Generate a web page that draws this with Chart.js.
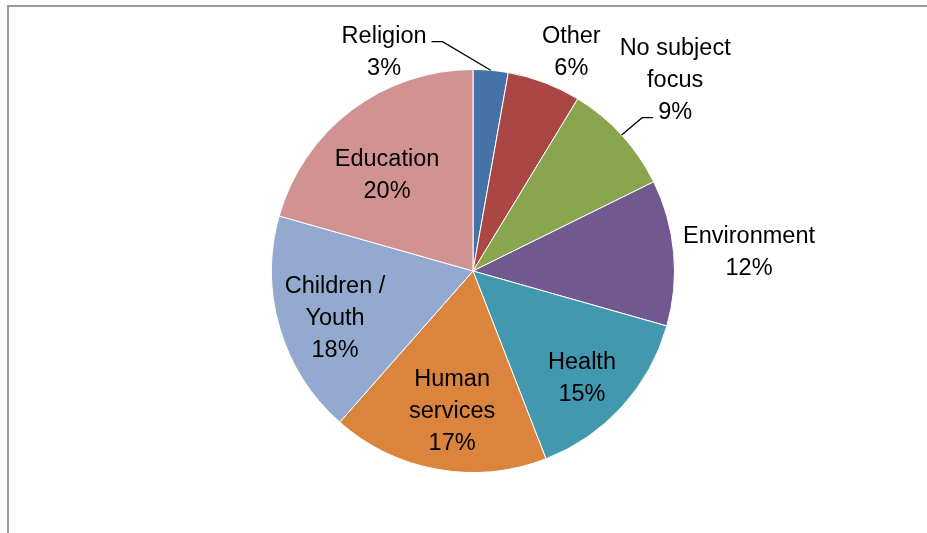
<!DOCTYPE html>
<html>
<head>
<meta charset="utf-8">
<script src="https://cdn.jsdelivr.net/npm/chart.js@4"></script>
<style>
    html, body { margin: 0; padding: 0; background: #ffffff; }
    #wrap { position: relative; width: 927px; height: 533px; overflow: hidden; }
    #frame {
        position: absolute; left: 7px; top: 5px; right: -10px; bottom: -10px;
        border-top: 2px solid #9a9a9a; border-left: 2px solid #9a9a9a;
    }
    #subjects-chart { position: absolute; left: 0; top: 0; }
</style>
</head>
<body>
<div id="wrap">
    <div id="frame"></div>
    <canvas id="subjects-chart" width="927" height="533"></canvas>
</div>
<script>
// Données (sens horaire depuis le haut)
const categories = [
    ['Religion'],
    ['Other'],
    ['No subject', 'focus'],
    ['Environment'],
    ['Health'],
    ['Human', 'services'],
    ['Children /', 'Youth'],
    ['Education']
];
const shares = [2.8, 5.9, 9.0, 11.7, 14.7, 17.4, 17.9, 20.6];
const percentLabels = ['3%', '6%', '9%', '12%', '15%', '17%', '18%', '20%'];
const sliceColors = ['#4572A7', '#AA4643', '#89A54E', '#71588F', '#4198AF', '#DB843D', '#93A9CF', '#D19392'];

// Placement des étiquettes : décalage d'angle (degrés) par rapport au milieu de la part, et distance relative au rayon
const labelLayout = [
    { da: -27.2, r: 1.17, leader: { line: 0, side: 'right' } },
    { da: 3.5, r: 1.19 },
    { da: -0.8, r: 1.378, leader: { line: 2, side: 'left' } },
    { da: 1.4, r: 1.373 },
    { da: 2.4, r: 0.761 },
    { da: -1.6, r: 0.703 },
    { da: -2.8, r: 0.725 },
    { da: -4.9, r: 0.638 }
];

const FONT = '23.5px "Liberation Sans", Arial, sans-serif';
const LINE_H = 32;

// Plugin pour dessiner les étiquettes et les lignes de rappel
const pieLabels = {
    id: 'pieLabels',
    afterDatasetsDraw(chart) {
        const ctx = chart.ctx;
        const arcs = chart.getDatasetMeta(0).data;
        ctx.save();
        ctx.font = FONT;
        ctx.fillStyle = '#000000';
        ctx.textAlign = 'center';
        ctx.textBaseline = 'middle';
        arcs.forEach((arc, i) => {
            const p = arc.getProps(['x', 'y', 'startAngle', 'endAngle', 'outerRadius'], true);
            const mid = (p.startAngle + p.endAngle) / 2;
            const lay = labelLayout[i];
            const a = mid + lay.da * Math.PI / 180;
            const cx = p.x + Math.cos(a) * p.outerRadius * lay.r;
            const cy = p.y + Math.sin(a) * p.outerRadius * lay.r;
            const lines = categories[i].concat([percentLabels[i]]);
            const top = cy - (lines.length - 1) * LINE_H / 2;
            lines.forEach((txt, k) => ctx.fillText(txt, cx, top + k * LINE_H));

            if (lay.leader) {
                const txt = lines[lay.leader.line];
                const w = ctx.measureText(txt).width;
                const ly = top + lay.leader.line * LINE_H + 5;
                const ax = p.x + Math.cos(mid) * p.outerRadius;
                const ay = p.y + Math.sin(mid) * p.outerRadius;
                const dir = lay.leader.side === 'right' ? 1 : -1;
                const endX = cx + dir * (w / 2 + 5);
                const elbowX = endX + dir * 11;
                ctx.beginPath();
                ctx.strokeStyle = '#000000';
                ctx.lineWidth = 1.3;
                ctx.moveTo(ax, ay);
                ctx.lineTo(elbowX, ly);
                ctx.lineTo(endX, ly);
                ctx.stroke();
            }
        });
        ctx.restore();
    }
};

const ctx = document.getElementById('subjects-chart');
new Chart(ctx, {
    type: 'pie',
    data: {
        labels: categories.map(c => c.join(' ')),
        datasets: [{
            data: shares,
            backgroundColor: sliceColors,
            borderColor: '#ffffff',
            borderWidth: 1
        }]
    },
    options: {
        responsive: false,
        animation: false,
        layout: {
            padding: { top: 69, bottom: 60, left: 271, right: 252 }
        },
        plugins: {
            legend: { display: false },
            tooltip: { enabled: false }
        }
    },
    plugins: [pieLabels]
});
</script>
</body>
</html>
